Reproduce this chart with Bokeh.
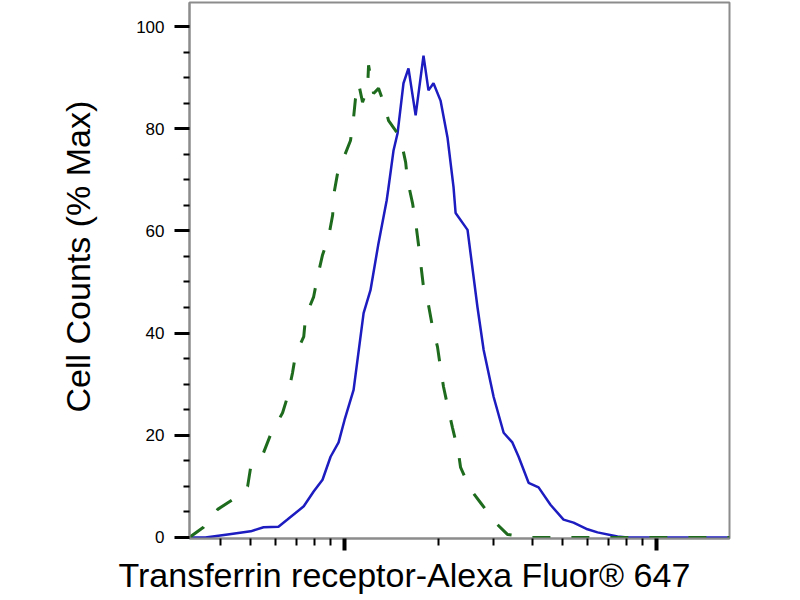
import math
from bokeh.plotting import figure
from bokeh.models import Range1d, FixedTicker, Title
from bokeh.embed import file_html
from bokeh.resources import INLINE

# Stained sample (blue, solid)
blue_x = [318, 358, 422, 500, 550, 614, 656, 740, 796, 850,
          902, 957, 1000, 1069, 1151, 1211, 1285, 1365, 1384, 1436,
          1479, 1545, 1603, 1690, 1791, 1858, 1928, 2031, 2138, 2235,
          2270, 2479, 2667, 2792, 3006, 3236, 3451, 3614, 3890, 4188,
          4572, 5035, 5420, 6010, 6471, 7500, 8070, 17140]
blue_y = [0, 0, 0.6, 1.2, 2.0, 2.1, 3.5, 6.1, 9.0, 11.3,
          15.8, 18.6, 23.0, 28.9, 43.9, 48.4, 57.6, 66.0, 68.6, 75.8,
          79.1, 88.9, 91.8, 82.6, 94.3, 87.5, 88.9, 85.5, 78.3, 68.6,
          63.5, 60.2, 45.1, 36.7, 27.5, 20.5, 18.6, 15.8, 10.7, 9.8,
          6.4, 3.5, 2.9, 1.6, 1.0, 0.2, 0, 0]

# Control (green, dashed)
green_x = [318, 353, 392, 438, 489, 500, 550, 579, 633, 656,
           681, 696, 740, 750, 796, 819, 850, 889, 916, 923,
           950, 1045, 1069, 1084, 1109, 1142, 1185, 1194, 1239, 1285,
           1334, 1384, 1510, 1570, 1592, 1652, 1690, 1727, 1754, 1791,
           1858, 1914, 1986, 2031, 2076, 2153, 2218, 2318, 2355, 2535,
           2729, 3048, 3327, 3945, 17140]
green_y = [0, 2.0, 5.5, 7.4, 10.0, 13.7, 16.6, 20.1, 24.4, 27.5,
           32.2, 35.7, 39.3, 43.2, 47.1, 51.0, 55.3, 58.8, 63.1, 67.0,
           71.3, 77.7, 82.2, 85.9, 88.9, 85.2, 87.9, 92.4, 86.9, 87.9,
           85.2, 81.6, 78.3, 73.4, 69.9, 65.4, 61.7, 57.2, 53.7, 49.0,
           45.5, 41.2, 37.3, 33.2, 29.5, 25.0, 21.5, 16.6, 13.7, 9.4,
           6.8, 2.9, 0.6, 0, 0]

y_ticks = [0, 20, 40, 60, 80, 100]
y_minor = [5, 10, 15, 25, 30, 35, 45, 50, 55, 65, 70, 75, 85, 90, 95]
x_major = [1000, 10000]
x_minor = [400, 500, 600, 700, 800, 900,
           2000, 3000, 4000, 5000, 6000, 7000, 8000, 9000]

x_title = "Transferrin receptor-Alexa Fluor\u00ae 647"
y_title = "Cell Counts (% Max)"

FONT = "Liberation Sans"

p = figure(width=800, height=600, x_axis_type="log",
           x_range=Range1d(318.4, 17140), y_range=Range1d(-0.2, 104.7),
           output_backend="svg", toolbar_location=None,
           min_border_left=189, min_border_right=71,
           min_border_top=2, min_border_bottom=61)
p.grid.visible = False
p.background_fill_color = "white"
p.border_fill_color = "white"
p.outline_line_color = "#8c8c8c"
p.outline_line_width = 2

# X axis
xa = p.xaxis[0]
xa.ticker = FixedTicker(ticks=x_major, minor_ticks=x_minor)
xa.axis_line_color = "#8c8c8c"
xa.axis_line_width = 2
xa.major_tick_line_color = "black"
xa.major_tick_line_width = 4
xa.major_tick_out = 12
xa.major_tick_in = 0
xa.minor_tick_line_color = "black"
xa.minor_tick_line_width = 2
xa.minor_tick_out = 7
xa.minor_tick_in = 0
xa.major_label_text_color = None
xa.major_label_text_font_size = "1px"
xa.major_label_standoff = 0

# Y axis
ya = p.yaxis[0]
ya.ticker = FixedTicker(ticks=y_ticks, minor_ticks=y_minor)
ya.axis_line_color = "#8c8c8c"
ya.axis_line_width = 2
ya.major_tick_line_color = "black"
ya.major_tick_line_width = 3
ya.major_tick_out = 15
ya.major_tick_in = 0
ya.minor_tick_line_color = "black"
ya.minor_tick_line_width = 2
ya.minor_tick_out = 6
ya.minor_tick_in = 0
ya.major_label_text_font = FONT
ya.major_label_text_font_size = "17px"
ya.major_label_text_color = "black"
ya.major_label_standoff = 10

p.line(blue_x, blue_y, line_color="#1c1cc0", line_width=2.5)
p.line(green_x, green_y, line_color="#1e6b1e", line_width=3, line_dash="18 21")

xt = Title(text=x_title, align="left", offset=-71, vertical_align="top",
           standoff=10, text_font=FONT, text_font_size="34px",
           text_font_style="normal", text_color="black")
p.add_layout(xt, "below")
yt = Title(text=y_title, align="left", offset=126, vertical_align="top",
           standoff=70, text_font=FONT, text_font_size="34px",
           text_font_style="normal", text_color="black")
p.add_layout(yt, "left")

open("out.html", "w").write(file_html(p, INLINE))
